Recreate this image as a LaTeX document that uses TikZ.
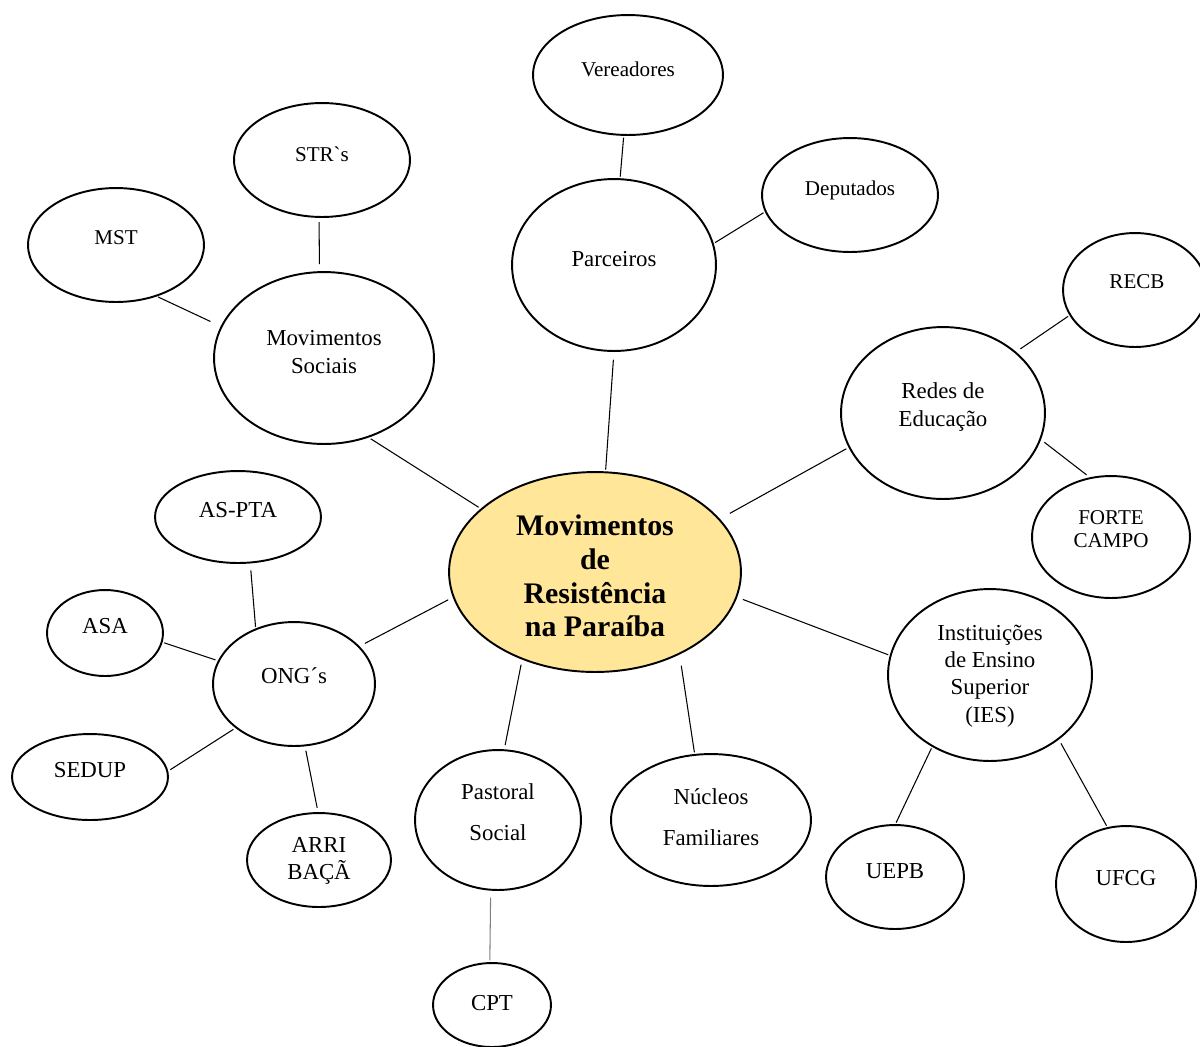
\documentclass[tikz,border=0pt]{standalone}
\usepackage{fontspec}
\setmainfont{Liberation Serif}
\newfontfamily\rawfont{Liberation Serif}
\usetikzlibrary{shapes.geometric}
\definecolor{centrefill}{RGB}{255,230,153}
\begin{document}
\begin{tikzpicture}[x=0.02cm, y=-0.02cm,
        bubble/.style 2 args={ellipse, draw, line width=1.1pt, inner sep=0pt, outer sep=0pt,
            minimum width=#1*0.04cm, minimum height=#2*0.04cm},
        txt/.style={align=center, inner sep=0pt, font=\fontsize{13}{15.5}\selectfont},
        small/.style={align=center, inner sep=0pt, font=\fontsize{12}{13.5}\selectfont},
        link/.style={line width=0.6pt, shorten >=1.5pt, shorten <=1.5pt}]
        \useasboundingbox (0,0) rectangle (1200,1046);
        % centre
        \node[bubble={146}{100}, fill=centrefill] (mrp) at (595,572) {};
        \node[align=center, inner sep=0pt, font=\fontsize{17}{19.2}\selectfont\bfseries] (mrpT) at (595,576)
            {Movimentos\\de\\Resistência\\na Paraíba};
        % parceiros
        \node[bubble={102}{86}] (par) at (614,265) {};
        \node[txt] (parT) at (614,259) {Parceiros};
        \node[bubble={95}{60}] (ver) at (628,75) {};
        \node[small] (verT) at (628,69) {Vereadores};
        \node[bubble={88}{57}] (dep) at (850,195) {};
        \node[small] (depT) at (850,190) {Deputados};
        % movimentos sociais
        \node[bubble={110}{86}] (mov) at (324,358) {};
        \node[txt] (movT) at (324,352) {Movimentos\\Sociais};
        \node[bubble={88}{57}] (str) at (322,160) {};
        \node[small] (strT) at (322,154) {STR{\rawfont `}s};
        \node[bubble={88}{57}] (mst) at (116,245) {};
        \node[small] (mstT) at (116,238) {MST};
        % redes de educacao
        \node[bubble={102}{86}] (red) at (943,413) {};
        \node[txt] (redT) at (943,407) {Redes de\\Educação};
        \node[bubble={72}{57}] (recb) at (1135,290) {};
        \node[small] (recbT) at (1137,282) {RECB};
        \node[bubble={79}{61}] (for) at (1111,537) {};
        \node[small] (forT) at (1111,529) {FORTE\\CAMPO};
        % IES
        \node[bubble={102}{86}] (ies) at (990,675) {};
        \node[txt] (iesT) at (990,676) {Instituições\\de Ensino\\Superior\\(IES)};
        \node[bubble={69}{52}] (uepb) at (895,877) {};
        \node[txt] (uepbT) at (895,871) {UEPB};
        \node[bubble={70}{58}] (ufcg) at (1126,884) {};
        \node[txt] (ufcgT) at (1126,878) {UFCG};
        % nucleos e pastoral
        \node[bubble={100}{66}] (nuc) at (711,820) {};
        \node[txt] (nucT) at (711,817) {Núcleos\\[8pt]Familiares};
        \node[bubble={83}{70}] (pas) at (498,820) {};
        \node[txt] (pasT) at (498,812) {Pastoral\\[8pt]Social};
        \node[bubble={59}{42}] (cpt) at (492,1005) {};
        \node[txt] (cptT) at (492,1003) {CPT};
        % ONGs
        \node[bubble={81}{62}] (ong) at (294,684) {};
        \node[txt] (ongT) at (294,676) {ONG´s};
        \node[bubble={83}{46}] (asp) at (238,517) {};
        \node[txt] (aspT) at (238,510) {AS-PTA};
        \node[bubble={58}{43}] (asa) at (105,633) {};
        \node[txt] (asaT) at (105,626) {ASA};
        \node[bubble={78}{43}] (sed) at (90,777) {};
        \node[txt] (sedT) at (90,770) {SEDUP};
        \node[bubble={72}{47}] (arr) at (319,860) {};
        \node[txt] (arrT) at (319,861) {ARRI\\BAÇÃ};
        % ligacoes
        \draw[link] (ver.-94)  -- (par.86);
        \draw[link] (dep.191)  -- (par.12);
        \draw[link, shorten <=5pt] (par.-90) -- (mrp.84);
        \draw[link, shorten <=3pt, shorten >=4.5pt] (str.-93) -- (mov.93);
        \draw[link, shorten >=7pt] (mst.-52) -- (mov.163);
        \draw[link, shorten <=2pt, shorten >=2pt] (mov.-61) -- (mrp.151);
        \draw[link, shorten >=3.5pt] (recb.201) -- (red.40);
        \draw[link, shorten <=3pt, shorten >=3pt] (for.109) -- (red.-15);
        \draw[link, shorten <=2pt, shorten >=7pt] (red.200) -- (mrp.23);
        \draw[link, shorten <=4pt] (mrp.-10) -- (ies.169);
        \draw[link] (ies.-129) -- (uepb.90);
        \draw[link, shorten <=3pt] (ies.-43) -- (ufcg.108);
        \draw[link, shorten <=7pt] (mrp.-44) -- (nuc.104);
        \draw[link, shorten <=3.5pt, shorten >=3pt] (mrp.-130) -- (pas.85);
        \draw[link, gray, shorten <=4.5pt] (pas.-96) -- (cpt.93);
        \draw[link, shorten <=3.5pt, shorten >=4pt] (mrp.190) -- (ong.30);
        \draw[link, shorten <=4.5pt] (asp.-75) -- (ong.125);
        \draw[link, shorten >=2pt] (asa.-9) -- (ong.163);
        \draw[link, shorten <=2pt, shorten >=2pt] (sed.4) -- (ong.217);
        \draw[link, shorten <=3pt, shorten >=3pt] (arr.91) -- (ong.-80);
\end{tikzpicture}
\end{document}
